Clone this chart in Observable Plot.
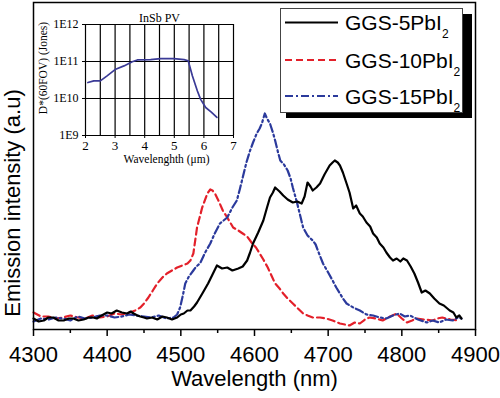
<!DOCTYPE html>
<html><head><meta charset="utf-8">
<script src="https://cdn.jsdelivr.net/npm/d3@7"></script>
<script src="https://cdn.jsdelivr.net/npm/@observablehq/plot@0.6"></script>
<style>
body{margin:0;background:#fff;}
#wrap{position:relative;width:500px;height:398px;overflow:hidden;}
#wrap > svg{position:absolute;left:0;top:0;}
</style></head><body><div id="wrap"></div>
<script>
// ---- main chart data (intensity in arbitrary units) ----
const blackWl = [4300,4307,4314,4320,4327,4334,4341,4348,4354,4361,4368,4375,4381,4386,4390,4395,4400,4406,4413,4420,4427,4432,4436,4441,4445,4450,4454,4461,4468,4475,4481,4488,4495,4500,4504,4509,4513,4518,4522,4530,4537,4543,4549,4556,4563,4570,4578,4584,4590,4594,4598,4605,4612,4617,4621,4625,4628,4634,4639,4645,4652,4658,4664,4668,4672,4676,4679,4684,4689,4695,4702,4706,4709,4713,4716,4720,4725,4729,4734,4738,4743,4747,4752,4757,4761,4766,4770,4775,4779,4784,4788,4793,4798,4802,4807,4812,4817,4822,4827,4832,4838,4844,4851,4857,4865,4870,4874,4878,4881];
const blackI  = [14,11,12,15,15,12,12,14,14,12,13,15,15,14,16,18,20,19,22,20,19,21,19,17,16,15,14,15,13,16,15,13,15,18,19,22,22,26,30,40,49,58,67,64,65,62,64,66,72,80,89,100,112,125,135,140,145,141,137,133,130,131,129,136,150,146,142,145,149,158,167,170,172,170,167,160,149,140,124,127,119,116,110,106,99,95,89,85,80,75,72,74,71,74,72,66,59,50,40,42,39,34,29,27,22,20,15,17,14];

const redWl = [4300,4310,4320,4330,4340,4350,4360,4370,4380,4390,4400,4410,4420,4431,4438,4445,4450,4456,4462,4468,4475,4481,4488,4495,4502,4509,4513,4517,4522,4529,4536,4540,4543,4547,4551,4557,4563,4571,4578,4584,4590,4597,4602,4607,4612,4618,4623,4628,4634,4639,4645,4652,4659,4666,4672,4679,4689,4697,4706,4716,4729,4736,4743,4750,4756,4765,4774,4784,4793,4800,4807,4814,4820,4830,4842,4848,4855,4866,4878];
const redI  = [20,16,16,14,15,17,15,14,17,15,16,19,18,20,22,25,29,35,42,49,55,59,62,65,67,69,72,79,105,125,139,143,142,138,132,122,115,105,102,99,96,89,85,79,73,65,57,49,44,39,34,29,24,19,17,15,15,14,12,9,7,10,9,13,15,14,12,16,19,14,10,12,14,13,12,14,15,13,12];

const blueWl = [4300,4310,4320,4330,4340,4350,4360,4370,4380,4390,4400,4410,4420,4430,4440,4450,4460,4470,4480,4490,4495,4499,4503,4506,4511,4517,4521,4526,4533,4540,4546,4553,4558,4563,4570,4576,4580,4584,4589,4594,4598,4603,4607,4610,4614,4617,4621,4625,4628,4632,4635,4640,4645,4649,4652,4658,4662,4666,4672,4679,4683,4686,4693,4700,4706,4711,4716,4720,4725,4734,4743,4752,4761,4770,4779,4788,4797,4804,4811,4822,4834,4842,4851,4860,4869,4876,4881];
const blueI  = [11,14,13,15,14,12,16,14,15,17,17,15,16,18,17,16,15,17,14,15,18,25,38,49,56,62,66,69,80,89,99,109,112,115,125,132,143,155,170,182,190,199,204,209,219,214,209,200,192,180,172,168,162,154,145,129,117,105,97,92,88,82,69,60,52,45,39,34,29,25,22,18,17,15,14,17,19,16,17,13,10,12,10,13,12,15,14];

const seriesNames  = ["GGS-5PbI", "GGS-10PbI", "GGS-15PbI"];
const seriesColors = ["#000000", "#e3202a", "#2b3a9c"];
const seriesDashes = ["none", "7,4", "8,3,2,3"];

const majorTicks = [4300,4400,4500,4600,4700,4800,4900];
const minorTicks = [4350,4450,4550,4650,4750,4850];
const xLabel = "Wavelength (nm)";
const yLabel = "Emission intensity (a.u)";

// ---- inset data ----
const insetWl = [2.08,2.28,2.5,2.73,3.02,3.3,3.58,3.75,4.2,4.54,4.99,5.33,5.47,5.61,5.78,5.89,6.06,6.25,6.44];
const insetD  = [2.7e10,3.0e10,3.0e10,4.1e10,6.2e10,7.6e10,9.8e10,1.1e11,1.12e11,1.2e11,1.2e11,1.12e11,1.05e11,4.1e10,1.6e10,9.5e9,5.7e9,4.3e9,3.1e9];
const insetGridX = [2,2.5,3,3.5,4,4.5,5,5.5,6,6.5,7];
const insetXTicks = [2,3,4,5,6,7];
const insetDecades = [1e9,1e10,1e11,1e12];
const insetTitle = "InSb PV";
const insetXLabel = "Wavelenghth (μm)";
const insetYLabel = "D*(60FOV) (Jones)";

const toRows = (w, v) => w.map((x, i) => ({x, v: v[i]}));
const sans = "'Liberation Sans', Arial, sans-serif";
const serif = "'Liberation Serif', 'Times New Roman', serif";

const main = Plot.plot({
  width: 500, height: 398,
  marginLeft: 33, marginRight: 25, marginTop: 2, marginBottom: 69,
  x: {domain: [4300, 4900]},
  y: {domain: [3, 330], axis: null},
  style: {fontFamily: sans, background: "transparent", color: "#000"},
  marks: [
    Plot.axisX(minorTicks, {tickSize: 4, text: null, label: null, strokeWidth: 1.5}),
    Plot.axisX(majorTicks, {tickSize: 7, tickPadding: 10, fontSize: 22, tickFormat: d => String(d), label: null, strokeWidth: 1.5}),
    Plot.line(toRows(redWl, redI), {x: "x", y: "v", stroke: seriesColors[1], strokeWidth: 2.2, strokeDasharray: seriesDashes[1]}),
    Plot.line(toRows(blueWl, blueI), {x: "x", y: "v", stroke: seriesColors[2], strokeWidth: 2.2, strokeDasharray: seriesDashes[2]}),
    Plot.line(toRows(blackWl, blackI), {x: "x", y: "v", stroke: seriesColors[0], strokeWidth: 2.2}),
    Plot.frame({stroke: "#000", strokeWidth: 1.5}),
    Plot.text([yLabel], {frameAnchor: "left", textAnchor: "middle", rotate: -90, dx: -21, dy: 37, fontSize: 22}),
    Plot.text([xLabel], {frameAnchor: "bottom", textAnchor: "middle", dy: 56, fontSize: 22})
  ]
});

const inset = Plot.plot({
  width: 245, height: 172,
  marginLeft: 85, marginRight: 12, marginTop: 24, marginBottom: 37,
  x: {domain: [2, 7]},
  y: {type: "log", domain: [1e9, 1e12]},
  style: {fontFamily: serif, background: "transparent", color: "#000"},
  marks: [
    Plot.ruleX(insetGridX, {stroke: "#000", strokeWidth: 1.2}),
    Plot.ruleY(insetDecades, {stroke: "#000", strokeWidth: 1.2}),
    Plot.axisX(insetXTicks, {tickSize: 3, tickPadding: 2, fontSize: 13, label: null}),
    Plot.axisY(insetDecades, {tickSize: 3, tickPadding: 4, fontSize: 12, tickFormat: d => "1E" + Math.round(Math.log10(d)), label: null}),
    Plot.line(toRows(insetWl, insetD), {x: "x", y: "v", stroke: "#3a3a96", strokeWidth: 1.7}),
    Plot.text([insetTitle], {frameAnchor: "top", textAnchor: "middle", dy: -11, fontSize: 12}),
    Plot.text([insetXLabel], {frameAnchor: "bottom", textAnchor: "middle", dy: 27, dx: 7, fontSize: 11.5}),
    Plot.text([insetYLabel], {frameAnchor: "left", textAnchor: "middle", rotate: -90, dx: -42, dy: -12, fontSize: 11.5})
  ]
});

const wrap = document.getElementById("wrap");
wrap.appendChild(main);
wrap.appendChild(inset);

// ---- legend overlay ----
const leg = d3.select(wrap).append("svg").attr("width", 500).attr("height", 398)
  .style("font-family", sans).style("pointer-events", "none");
leg.append("rect").attr("x", 286).attr("y", 14).attr("width", 186).attr("height", 104).attr("fill", "#000");
leg.append("rect").attr("x", 280.5).attr("y", 8.5).attr("width", 182).attr("height", 104).attr("fill", "#fff").attr("stroke", "#444").attr("stroke-width", 1);
const rowsY = [22.5, 60, 96];
seriesNames.forEach((name, i) => {
  leg.append("line").attr("x1", 285).attr("x2", 338).attr("y1", rowsY[i]).attr("y2", rowsY[i])
    .attr("stroke", seriesColors[i]).attr("stroke-width", 2)
    .attr("stroke-dasharray", seriesDashes[i] === "none" ? null : seriesDashes[i]);
  const t = leg.append("text").attr("x", 345).attr("y", rowsY[i] + 7.5).attr("font-size", 21).attr("fill", "#000");
  t.append("tspan").text(name);
  t.append("tspan").attr("font-size", 12).attr("dy", 8).text("2");
});
</script>
</body></html>
